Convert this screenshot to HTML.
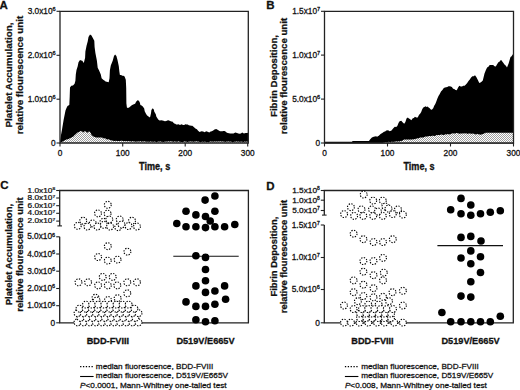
<!DOCTYPE html><html><head><meta charset="utf-8"><style>html,body{margin:0;padding:0;background:#fff;}svg{display:block;} text{stroke:#111;stroke-width:0.28px;}</style></head><body>
<svg width="520" height="390" viewBox="0 0 520 390">
<defs><pattern id="h" width="2" height="2" patternUnits="userSpaceOnUse"><rect width="2" height="2" fill="#fff"/><rect width="1" height="1" fill="#a0a0a0"/><rect x="1" y="1" width="1" height="1" fill="#a0a0a0"/></pattern></defs>
<rect width="520" height="390" fill="#fff"/>
<path d="M60.0,143.0 L60.4,139.0 L60.9,135.5 L61.9,130.2 L62.6,126.0 L63.6,120.0 L64.6,115.0 L65.5,110.5 L66.5,108.0 L67.5,106.0 L69.3,105.0 L69.7,96.7 L70.0,87.5 L71.3,85.8 L73.0,85.4 L74.6,83.8 L75.4,80.8 L75.8,74.6 L76.5,70.0 L77.7,66.2 L78.5,62.3 L80.0,60.0 L81.2,60.4 L82.3,60.8 L83.8,63.1 L85.1,57.7 L85.4,51.5 L86.6,45.4 L87.7,41.5 L88.5,36.9 L90.0,34.6 L91.5,35.4 L93.1,38.5 L94.3,40.8 L94.6,46.9 L95.4,53.0 L96.9,60.8 L97.7,67.7 L99.2,70.8 L100.8,74.6 L101.6,78.2 L103.2,79.8 L104.4,80.5 L105.6,81.4 L106.6,81.8 L107.7,82.1 L108.7,82.2 L109.5,78.2 L109.9,70.3 L110.8,65.5 L112.7,60.7 L114.0,56.0 L115.1,54.4 L116.4,56.0 L117.5,59.9 L118.8,66.3 L119.4,71.8 L119.9,75.0 L121.1,74.9 L122.3,75.8 L123.4,75.7 L124.6,76.6 L125.8,79.8 L126.2,87.7 L126.4,103.6 L126.9,107.6 L127.9,108.0 L129.1,107.6 L130.3,106.5 L131.8,105.3 L133.2,104.6 L135.1,103.7 L136.1,101.7 L137.5,100.3 L138.9,100.8 L139.9,102.7 L140.4,105.1 L141.6,105.5 L142.8,106.5 L144.2,108.5 L144.7,111.3 L145.7,113.3 L146.9,115.3 L148.1,116.2 L150.0,117.6 L151.0,113.3 L151.4,109.9 L152.7,108.3 L153.8,109.4 L154.3,111.8 L155.8,114.2 L156.3,116.6 L158.2,119.5 L159.6,120.5 L161.5,120.2 L162.5,120.5 L163.5,120.8 L164.9,121.3 L166.3,121.0 L167.3,120.6 L168.3,120.2 L170.2,121.0 L171.2,121.4 L172.3,121.5 L174.2,123.5 L175.2,123.7 L176.2,124.6 L177.3,124.5 L178.5,124.2 L180.0,125.0 L181.5,124.2 L183.1,125.0 L184.2,125.0 L185.4,124.2 L186.6,124.4 L187.7,124.6 L188.8,125.3 L190.0,125.4 L191.2,125.8 L192.3,125.8 L193.8,126.9 L195.4,128.5 L196.9,129.2 L198.1,130.8 L199.6,131.9 L201.5,131.2 L203.1,131.5 L204.6,132.3 L206.2,131.3 L207.6,131.7 L209.3,132.5 L210.6,131.4 L211.9,131.2 L213.2,130.6 L214.5,129.5 L216.2,129.1 L218.0,130.0 L219.1,130.7 L220.1,131.2 L221.2,131.2 L222.3,131.2 L223.5,131.1 L224.6,131.0 L225.8,131.7 L226.9,132.8 L227.9,133.0 L229.0,133.2 L230.1,133.4 L231.2,133.4 L232.4,133.4 L233.5,133.4 L235.3,132.5 L237.0,133.0 L238.3,133.6 L239.6,133.8 L240.9,133.6 L242.2,132.5 L243.9,133.4 L245.7,133.0 L247.0,133.1 L248.3,132.8 L248.3,143.0 Z" fill="#000"/>
<path d="M60.0,143.0 L64.9,140.2 L66.0,139.7 L67.0,139.2 L68.0,139.3 L69.1,138.8 L70.2,137.9 L71.2,137.7 L72.3,137.0 L73.4,136.6 L74.6,135.1 L75.7,134.3 L76.9,133.1 L78.0,132.2 L79.0,132.0 L80.0,131.2 L81.1,131.0 L82.2,131.4 L83.2,132.4 L84.3,131.6 L85.4,131.0 L86.5,132.2 L87.5,132.8 L88.5,131.8 L89.6,131.4 L90.7,133.1 L91.7,135.2 L92.8,135.9 L93.8,136.7 L94.9,136.9 L96.0,137.4 L97.1,137.4 L98.2,137.4 L99.4,137.4 L100.5,137.4 L101.6,137.4 L102.6,137.7 L103.7,138.5 L104.8,138.1 L105.8,138.8 L106.9,139.4 L108.1,139.3 L109.2,139.5 L110.4,139.9 L111.5,140.5 L112.7,140.5 L113.8,141.0 L115.0,140.9 L116.0,140.7 L117.0,141.0 L118.0,141.1 L119.0,140.9 L120.0,141.1 L121.0,140.7 L122.0,140.7 L123.0,140.9 L124.0,141.3 L125.0,141.1 L126.0,141.0 L127.0,141.3 L128.0,141.2 L129.0,141.1 L130.0,141.3 L131.0,141.6 L132.0,141.5 L133.0,141.1 L134.0,141.4 L135.0,141.4 L136.0,141.7 L137.0,141.6 L138.0,141.3 L139.0,141.8 L140.0,141.1 L141.0,141.4 L142.0,141.7 L143.0,141.2 L144.0,141.5 L145.0,141.2 L146.0,141.7 L147.0,141.8 L148.0,141.6 L149.0,141.9 L150.0,141.6 L151.0,141.5 L152.0,141.8 L153.0,141.7 L154.0,141.7 L155.0,141.6 L156.0,141.9 L157.0,142.0 L158.0,141.6 L159.0,141.7 L160.0,141.3 L161.0,141.8 L162.0,141.7 L163.0,142.0 L164.0,141.9 L165.0,141.5 L166.0,141.5 L167.0,141.8 L168.0,141.3 L169.0,141.6 L170.0,141.4 L171.0,141.3 L172.0,141.3 L173.0,141.9 L174.0,141.4 L175.0,141.4 L176.0,141.6 L177.0,142.0 L178.0,141.3 L179.0,141.6 L180.0,141.7 L181.0,142.0 L182.0,141.9 L183.0,142.0 L184.0,141.5 L185.0,141.6 L186.0,141.6 L187.0,142.0 L188.0,142.0 L189.0,141.4 L190.0,141.4 L191.0,141.5 L192.0,141.5 L193.0,141.7 L194.0,141.8 L195.0,141.5 L196.0,141.3 L197.0,141.6 L198.0,141.6 L199.0,141.8 L200.0,142.1 L201.0,141.9 L202.0,141.7 L203.0,141.8 L204.0,141.9 L205.0,141.4 L206.0,142.0 L207.0,141.9 L208.0,142.0 L209.0,142.0 L210.0,141.6 L211.0,141.6 L212.0,141.4 L213.0,141.8 L214.0,141.4 L215.0,141.4 L216.0,141.5 L217.0,141.5 L218.0,141.6 L219.0,141.4 L220.0,141.3 L221.0,141.5 L222.0,141.4 L223.0,141.6 L224.0,141.4 L225.0,142.1 L226.0,141.8 L227.0,141.5 L228.0,141.6 L229.0,141.6 L230.0,141.7 L231.0,141.5 L232.0,142.0 L233.0,142.2 L234.0,141.7 L235.0,141.8 L236.0,141.4 L237.0,141.5 L238.0,141.7 L239.0,141.6 L240.0,142.0 L241.0,141.5 L242.0,141.4 L243.0,142.2 L244.0,141.8 L245.0,141.5 L246.0,141.8 L247.0,141.4 L248.0,141.8 L248.0,143.0 Z" fill="url(#h)"/>
<path d="M324.5,143.5 L324.5,141.8 L325.5,141.8 L326.6,141.8 L327.6,141.8 L328.6,141.8 L329.6,141.8 L330.7,141.8 L331.7,141.8 L332.7,141.8 L333.8,141.8 L334.8,141.8 L335.8,141.8 L336.9,141.8 L337.9,141.8 L338.9,141.8 L339.9,141.8 L341.0,141.8 L342.0,141.8 L343.0,141.8 L344.1,141.8 L345.1,141.8 L346.1,141.8 L347.2,141.8 L348.2,141.8 L349.2,141.8 L350.2,141.8 L351.3,141.8 L352.3,141.8 L352.3,141.0 L353.3,141.0 L354.4,141.0 L355.4,141.0 L356.5,141.0 L357.5,141.0 L358.6,141.0 L359.6,141.0 L360.6,141.0 L361.7,141.0 L362.7,141.0 L363.8,141.0 L364.8,141.0 L365.9,141.0 L366.9,141.0 L368.0,141.0 L369.0,141.0 L370.2,139.2 L371.9,137.5 L373.7,136.7 L374.9,136.6 L376.0,136.3 L377.1,136.7 L378.8,135.8 L380.6,134.0 L382.3,132.9 L384.0,131.7 L385.1,131.4 L386.3,130.6 L388.1,130.2 L389.8,131.2 L391.5,130.6 L393.3,128.3 L394.8,126.8 L396.2,127.1 L397.3,126.0 L398.5,123.1 L399.6,121.3 L401.3,120.8 L402.8,122.5 L404.2,123.7 L405.4,121.9 L406.5,118.5 L407.8,117.5 L408.9,118.5 L409.9,118.9 L411.3,120.3 L412.8,118.2 L413.9,118.0 L414.9,116.8 L416.3,117.4 L417.7,117.5 L419.1,114.7 L420.1,113.8 L421.2,111.9 L422.2,109.2 L423.3,107.6 L424.4,106.9 L425.5,106.2 L426.6,106.9 L427.6,106.6 L428.6,107.6 L429.7,108.3 L430.8,109.4 L431.8,109.7 L433.2,108.3 L434.2,105.8 L435.3,104.1 L436.4,101.3 L437.4,98.5 L438.5,96.1 L439.6,94.2 L441.0,91.4 L442.4,90.0 L443.8,87.9 L445.0,87.6 L446.1,87.3 L447.3,86.9 L448.5,86.2 L449.6,86.3 L450.8,86.5 L451.9,87.1 L453.1,88.7 L454.2,89.1 L455.5,90.0 L456.8,90.3 L458.1,87.6 L459.4,85.7 L460.7,86.4 L462.0,86.5 L463.3,85.7 L464.6,85.7 L465.9,84.5 L467.2,83.1 L468.5,80.9 L469.8,79.6 L471.1,77.4 L472.4,76.2 L473.7,76.2 L475.0,75.3 L476.3,77.1 L477.6,79.6 L479.3,83.1 L481.0,82.2 L482.8,80.5 L484.5,73.6 L485.8,70.2 L487.1,67.5 L488.4,66.7 L489.7,64.9 L490.9,64.9 L492.0,64.9 L493.2,64.9 L494.5,66.2 L495.8,66.6 L497.1,64.2 L498.4,62.3 L499.7,61.5 L501.0,59.7 L502.3,61.5 L503.6,63.2 L504.7,64.8 L505.9,65.7 L507.0,67.5 L508.7,63.2 L510.5,57.1 L511.6,56.3 L512.7,54.5 L513.3,54.0 L513.3,143.5 Z" fill="#000"/>
<path d="M383.5,143.0 L383.5,142.5 L384.5,142.4 L385.6,142.3 L386.6,142.0 L387.6,142.5 L388.6,141.8 L389.7,142.1 L390.7,142.3 L391.7,141.6 L392.8,141.9 L393.8,141.8 L394.8,141.8 L395.8,141.2 L396.8,141.4 L397.9,141.6 L398.9,141.3 L399.9,141.4 L400.9,140.8 L401.9,141.0 L402.9,140.3 L404.0,139.6 L405.0,139.4 L406.0,139.4 L407.0,139.4 L408.0,139.4 L409.0,139.4 L410.0,139.4 L411.0,139.4 L412.0,139.4 L413.0,139.2 L414.0,139.3 L415.0,138.9 L416.1,138.8 L417.1,138.3 L418.1,138.4 L419.1,138.0 L420.2,137.5 L421.2,137.5 L422.3,137.6 L423.4,137.4 L424.4,137.0 L425.5,136.5 L426.5,136.5 L427.6,136.5 L428.7,136.1 L429.8,136.0 L431.0,136.3 L432.1,135.7 L433.2,135.8 L434.3,136.0 L435.4,135.8 L436.6,135.0 L437.7,135.1 L438.8,135.1 L439.9,135.0 L441.1,134.6 L442.2,134.8 L443.4,135.1 L444.5,134.7 L445.6,134.3 L446.7,134.5 L447.8,134.0 L448.9,134.2 L449.9,134.4 L451.0,133.7 L452.1,133.4 L453.2,133.3 L454.3,133.6 L455.4,133.4 L456.4,133.0 L457.5,133.1 L458.5,133.4 L459.6,133.8 L460.6,133.4 L461.7,133.4 L462.7,133.6 L463.7,133.2 L464.8,133.6 L465.8,133.3 L466.9,133.6 L467.9,133.9 L469.0,133.2 L470.0,133.6 L471.0,133.7 L472.0,133.8 L473.0,133.5 L474.0,133.7 L475.0,134.3 L476.0,134.4 L477.0,133.8 L478.0,134.3 L479.0,134.2 L480.2,134.8 L481.5,134.6 L482.6,133.9 L483.8,133.8 L484.9,132.9 L486.0,132.8 L487.0,132.8 L488.0,132.8 L489.0,132.8 L490.0,132.8 L491.1,132.8 L492.1,132.8 L493.1,132.8 L494.1,132.8 L495.1,132.8 L496.1,132.8 L497.1,132.8 L498.1,132.8 L499.1,132.8 L500.2,132.8 L501.2,132.8 L502.2,132.8 L503.2,132.8 L504.2,132.8 L505.2,132.8 L506.2,132.8 L507.2,132.8 L508.2,132.8 L509.3,132.8 L510.3,132.8 L511.3,132.8 L512.3,132.8 L513.3,132.8 L513.3,143.0 Z" fill="url(#h)"/>
<path d="M60,143 L60,11.3 L248.3,11.3 L248.3,143 Z" fill="none" stroke="#222" stroke-width="1.3"/>
<path d="M324.5,143 L324.5,11.3 L513.5,11.3 L513.5,143 Z" fill="none" stroke="#222" stroke-width="1.3"/>
<g font-family='"Liberation Sans", sans-serif' fill="#111">
<line x1="56.5" y1="11.3" x2="60" y2="11.3" stroke="#222" stroke-width="1.1"/>
<text transform="translate(55.7,13.700000000000001) scale(1,1.05)" font-size="8.3" text-anchor="end">3.0x10<tspan font-size="5.6" dy="-2.6">6</tspan></text>
<line x1="56.5" y1="55.3" x2="60" y2="55.3" stroke="#222" stroke-width="1.1"/>
<text transform="translate(55.7,57.699999999999996) scale(1,1.05)" font-size="8.3" text-anchor="end">2.0x10<tspan font-size="5.6" dy="-2.6">6</tspan></text>
<line x1="56.5" y1="99.2" x2="60" y2="99.2" stroke="#222" stroke-width="1.1"/>
<text transform="translate(55.7,101.60000000000001) scale(1,1.05)" font-size="8.3" text-anchor="end">1.0x10<tspan font-size="5.6" dy="-2.6">6</tspan></text>
<line x1="56.5" y1="143" x2="60" y2="143" stroke="#222" stroke-width="1.1"/>
<text transform="translate(55.7,145.9) scale(1,1.05)" font-size="8.3" text-anchor="end">0</text>
<line x1="60" y1="143" x2="60" y2="146.5" stroke="#222" stroke-width="1.1"/>
<text transform="translate(60,156.2) scale(1,1.05)" font-size="8.3" text-anchor="middle">0</text>
<line x1="122.7" y1="143" x2="122.7" y2="146.5" stroke="#222" stroke-width="1.1"/>
<text transform="translate(122.7,156.2) scale(1,1.05)" font-size="8.3" text-anchor="middle">100</text>
<line x1="185.2" y1="143" x2="185.2" y2="146.5" stroke="#222" stroke-width="1.1"/>
<text transform="translate(185.2,156.2) scale(1,1.05)" font-size="8.3" text-anchor="middle">200</text>
<line x1="247.7" y1="143" x2="247.7" y2="146.5" stroke="#222" stroke-width="1.1"/>
<text transform="translate(247.7,156.2) scale(1,1.05)" font-size="8.3" text-anchor="middle">300</text>
<line x1="321.0" y1="11.3" x2="324.5" y2="11.3" stroke="#222" stroke-width="1.1"/>
<text transform="translate(320.2,14.200000000000001) scale(1,1.05)" font-size="8.3" text-anchor="end">1.5x10<tspan font-size="5.6" dy="-2.6">7</tspan></text>
<line x1="321.0" y1="55.1" x2="324.5" y2="55.1" stroke="#222" stroke-width="1.1"/>
<text transform="translate(320.2,58.0) scale(1,1.05)" font-size="8.3" text-anchor="end">1.0x10<tspan font-size="5.6" dy="-2.6">7</tspan></text>
<line x1="321.0" y1="99.1" x2="324.5" y2="99.1" stroke="#222" stroke-width="1.1"/>
<text transform="translate(320.2,102.0) scale(1,1.05)" font-size="8.3" text-anchor="end">5.0x10<tspan font-size="5.6" dy="-2.6">6</tspan></text>
<line x1="321.0" y1="143" x2="324.5" y2="143" stroke="#222" stroke-width="1.1"/>
<text transform="translate(320.2,145.9) scale(1,1.05)" font-size="8.3" text-anchor="end">0</text>
<line x1="324.5" y1="143" x2="324.5" y2="146.5" stroke="#222" stroke-width="1.1"/>
<text transform="translate(324.5,156.2) scale(1,1.05)" font-size="8.3" text-anchor="middle">0</text>
<line x1="387.5" y1="143" x2="387.5" y2="146.5" stroke="#222" stroke-width="1.1"/>
<text transform="translate(387.5,156.2) scale(1,1.05)" font-size="8.3" text-anchor="middle">100</text>
<line x1="450.5" y1="143" x2="450.5" y2="146.5" stroke="#222" stroke-width="1.1"/>
<text transform="translate(450.5,156.2) scale(1,1.05)" font-size="8.3" text-anchor="middle">200</text>
<line x1="513.5" y1="143" x2="513.5" y2="146.5" stroke="#222" stroke-width="1.1"/>
<text transform="translate(513.5,156.2) scale(1,1.05)" font-size="8.3" text-anchor="middle">300</text>
<text transform="translate(154.6,169.9) scale(1,1.14)" font-size="9.1" font-weight="bold" text-anchor="middle">Time, s</text>
<text transform="translate(419,169.9) scale(1,1.14)" font-size="9.1" font-weight="bold" text-anchor="middle">Time, s</text>
<text x="-0.6" y="8.6" font-size="11.5" font-weight="bold">A</text>
<text x="266.3" y="8.6" font-size="11.5" font-weight="bold">B</text>
<text x="0.3" y="189.4" font-size="11.5" font-weight="bold">C</text>
<text x="266.3" y="189.6" font-size="11.5" font-weight="bold">D</text>
<text transform="translate(11.8,75) rotate(-90) scale(1,0.9)" font-size="9.85" font-weight="bold" text-anchor="middle">Platelet Accumulation,</text>
<text transform="translate(22.8,75) rotate(-90) scale(1,0.9)" font-size="9.85" font-weight="bold" text-anchor="middle">relative flourescence unit</text>
<text transform="translate(276.5,76) rotate(-90) scale(1,0.9)" font-size="9.65" font-weight="bold" text-anchor="middle">Fibrin Deposition,</text>
<text transform="translate(286.8,76) rotate(-90) scale(1,0.9)" font-size="9.65" font-weight="bold" text-anchor="middle">relative flourescence unit</text>
<text transform="translate(11.8,254.6) rotate(-90) scale(1,0.9)" font-size="9.5" font-weight="bold" text-anchor="middle">Platelet Accumulation,</text>
<text transform="translate(22.8,254.6) rotate(-90) scale(1,0.9)" font-size="9.5" font-weight="bold" text-anchor="middle">relative flourescence unit</text>
<text transform="translate(276.5,256.6) rotate(-90) scale(1,0.9)" font-size="9.4" font-weight="bold" text-anchor="middle">Fibrin Deposition,</text>
<text transform="translate(286.8,256.6) rotate(-90) scale(1,0.9)" font-size="9.4" font-weight="bold" text-anchor="middle">relative flourescence unit</text>
</g>
<g font-family='"Liberation Sans", sans-serif' fill="#111">
<path d="M59.7,225.9 L59.7,190.5 L248.4,190.5 L248.4,322.8 L59.7,322.8 L59.7,236.8" fill="none" stroke="#222" stroke-width="1.3"/>
<line x1="57.400000000000006" y1="225.9" x2="62.0" y2="225.9" stroke="#222" stroke-width="1.1"/>
<line x1="56.2" y1="190.5" x2="59.7" y2="190.5" stroke="#222" stroke-width="1.1"/>
<text transform="translate(55.2,192.58) scale(1,0.8)" font-size="8.3" text-anchor="end">1.0x10<tspan font-size="4.9" dy="-2.8">8</tspan></text>
<line x1="56.2" y1="198" x2="59.7" y2="198" stroke="#222" stroke-width="1.1"/>
<text transform="translate(55.2,200.08) scale(1,0.8)" font-size="8.3" text-anchor="end">8.0x10<tspan font-size="4.9" dy="-2.8">7</tspan></text>
<line x1="56.2" y1="205.7" x2="59.7" y2="205.7" stroke="#222" stroke-width="1.1"/>
<text transform="translate(55.2,207.78) scale(1,0.8)" font-size="8.3" text-anchor="end">6.0x10<tspan font-size="4.9" dy="-2.8">7</tspan></text>
<line x1="56.2" y1="213.3" x2="59.7" y2="213.3" stroke="#222" stroke-width="1.1"/>
<text transform="translate(55.2,215.38000000000002) scale(1,0.8)" font-size="8.3" text-anchor="end">4.0x10<tspan font-size="4.9" dy="-2.8">7</tspan></text>
<line x1="56.2" y1="221.1" x2="59.7" y2="221.1" stroke="#222" stroke-width="1.1"/>
<text transform="translate(55.2,223.18) scale(1,0.8)" font-size="8.3" text-anchor="end">2.0x10<tspan font-size="4.9" dy="-2.8">7</tspan></text>
<line x1="56.2" y1="236.8" x2="59.7" y2="236.8" stroke="#222" stroke-width="1.1"/>
<text transform="translate(55.2,239.4) scale(1,1.0)" font-size="8.3" text-anchor="end">5.0x10<tspan font-size="5.6" dy="-2.8">6</tspan></text>
<line x1="56.2" y1="254" x2="59.7" y2="254" stroke="#222" stroke-width="1.1"/>
<text transform="translate(55.2,256.6) scale(1,1.0)" font-size="8.3" text-anchor="end">4.0x10<tspan font-size="5.6" dy="-2.8">6</tspan></text>
<line x1="56.2" y1="271.2" x2="59.7" y2="271.2" stroke="#222" stroke-width="1.1"/>
<text transform="translate(55.2,273.8) scale(1,1.0)" font-size="8.3" text-anchor="end">3.0x10<tspan font-size="5.6" dy="-2.8">6</tspan></text>
<line x1="56.2" y1="288.5" x2="59.7" y2="288.5" stroke="#222" stroke-width="1.1"/>
<text transform="translate(55.2,291.1) scale(1,1.0)" font-size="8.3" text-anchor="end">2.0x10<tspan font-size="5.6" dy="-2.8">6</tspan></text>
<line x1="56.2" y1="305.7" x2="59.7" y2="305.7" stroke="#222" stroke-width="1.1"/>
<text transform="translate(55.2,308.3) scale(1,1.0)" font-size="8.3" text-anchor="end">1.0x10<tspan font-size="5.6" dy="-2.8">6</tspan></text>
<line x1="56.2" y1="322.8" x2="59.7" y2="322.8" stroke="#222" stroke-width="1.1"/>
<text x="55.2" y="325.7" font-size="8.3" text-anchor="end">0</text>
<path d="M324.3,215.1 L324.3,190.5 L513.3,190.5 L513.3,322.8 L324.3,322.8 L324.3,225.0" fill="none" stroke="#222" stroke-width="1.3"/>
<line x1="322.0" y1="215.1" x2="326.6" y2="215.1" stroke="#222" stroke-width="1.1"/>
<line x1="320.8" y1="190.5" x2="324.3" y2="190.5" stroke="#222" stroke-width="1.1"/>
<text transform="translate(319.8,192.84) scale(1,0.9)" font-size="8.3" text-anchor="end">1.5x10<tspan font-size="5.0" dy="-2.8">8</tspan></text>
<line x1="320.8" y1="200.2" x2="324.3" y2="200.2" stroke="#222" stroke-width="1.1"/>
<text transform="translate(319.8,202.54) scale(1,0.9)" font-size="8.3" text-anchor="end">1.0x10<tspan font-size="5.0" dy="-2.8">8</tspan></text>
<line x1="320.8" y1="210.5" x2="324.3" y2="210.5" stroke="#222" stroke-width="1.1"/>
<text transform="translate(319.8,212.84) scale(1,0.9)" font-size="8.3" text-anchor="end">5.0x10<tspan font-size="5.0" dy="-2.8">7</tspan></text>
<line x1="320.8" y1="225.0" x2="324.3" y2="225.0" stroke="#222" stroke-width="1.1"/>
<text transform="translate(319.8,227.6) scale(1,1.0)" font-size="8.3" text-anchor="end">1.5x10<tspan font-size="5.6" dy="-2.8">7</tspan></text>
<line x1="320.8" y1="257.5" x2="324.3" y2="257.5" stroke="#222" stroke-width="1.1"/>
<text transform="translate(319.8,260.1) scale(1,1.0)" font-size="8.3" text-anchor="end">1.0x10<tspan font-size="5.6" dy="-2.8">7</tspan></text>
<line x1="320.8" y1="289.5" x2="324.3" y2="289.5" stroke="#222" stroke-width="1.1"/>
<text transform="translate(319.8,292.1) scale(1,1.0)" font-size="8.3" text-anchor="end">5.0x10<tspan font-size="5.6" dy="-2.8">6</tspan></text>
<line x1="320.8" y1="322.8" x2="324.3" y2="322.8" stroke="#222" stroke-width="1.1"/>
<text x="319.8" y="325.7" font-size="8.3" text-anchor="end">0</text>
<text x="107.9" y="344.4" font-size="9.2" font-weight="bold" text-anchor="middle">BDD-FVIII</text>
<text x="205.5" y="344.4" font-size="9.2" font-weight="bold" text-anchor="middle">D519V/E665V</text>
<text x="372.5" y="344.4" font-size="9.2" font-weight="bold" text-anchor="middle">BDD-FVIII</text>
<text x="470.6" y="344.4" font-size="9.2" font-weight="bold" text-anchor="middle">D519V/E665V</text>
<line x1="80.1" y1="366.7" x2="92.89999999999999" y2="366.7" stroke="#000" stroke-width="1.25" stroke-dasharray="1.3 1.55"/>
<text transform="translate(95.8,368.6) scale(1,0.9)" font-size="8.2">median fluorescence, BDD-FVIII</text>
<line x1="80.1" y1="376.5" x2="93.6" y2="376.5" stroke="#000" stroke-width="1.1"/>
<text transform="translate(95.8,378.3) scale(1,0.9)" font-size="8.2">median fluorescence, D519V/E665V</text>
<text transform="translate(80.1,387.6) scale(1,0.9)" font-size="8.2"><tspan font-style="italic">P</tspan>&lt;0.0001, Mann-Whitney one-tailed test</text>
<line x1="344.9" y1="366.7" x2="357.7" y2="366.7" stroke="#000" stroke-width="1.25" stroke-dasharray="1.3 1.55"/>
<text transform="translate(361.2,368.6) scale(1,0.9)" font-size="8.2">median fluorescence, BDD-FVIII</text>
<line x1="344.9" y1="376.5" x2="358.4" y2="376.5" stroke="#000" stroke-width="1.1"/>
<text transform="translate(361.2,378.3) scale(1,0.9)" font-size="8.2">median fluorescence, D519V/E665V</text>
<text transform="translate(344.9,387.6) scale(1,0.9)" font-size="8.2"><tspan font-style="italic">P</tspan>&lt;0.008, Mann-Whitney one-tailed test</text>
</g>
<circle cx="107.8" cy="204.8" r="3.45" fill="#fff" stroke="#000" stroke-width="1.1" stroke-dasharray="1.35 1.36"/>
<circle cx="98.0" cy="213.4" r="3.45" fill="#fff" stroke="#000" stroke-width="1.1" stroke-dasharray="1.35 1.36"/>
<circle cx="107.6" cy="213.6" r="3.45" fill="#fff" stroke="#000" stroke-width="1.1" stroke-dasharray="1.35 1.36"/>
<circle cx="83.2" cy="220.7" r="3.45" fill="#fff" stroke="#000" stroke-width="1.1" stroke-dasharray="1.35 1.36"/>
<circle cx="92.8" cy="223.4" r="3.45" fill="#fff" stroke="#000" stroke-width="1.1" stroke-dasharray="1.35 1.36"/>
<circle cx="103.5" cy="221.8" r="3.45" fill="#fff" stroke="#000" stroke-width="1.1" stroke-dasharray="1.35 1.36"/>
<circle cx="109.3" cy="219.5" r="3.45" fill="#fff" stroke="#000" stroke-width="1.1" stroke-dasharray="1.35 1.36"/>
<circle cx="119.7" cy="219.5" r="3.45" fill="#fff" stroke="#000" stroke-width="1.1" stroke-dasharray="1.35 1.36"/>
<circle cx="132.0" cy="220.7" r="3.45" fill="#fff" stroke="#000" stroke-width="1.1" stroke-dasharray="1.35 1.36"/>
<circle cx="77.8" cy="225.8" r="3.45" fill="#fff" stroke="#000" stroke-width="1.1" stroke-dasharray="1.35 1.36"/>
<circle cx="87.4" cy="226.5" r="3.45" fill="#fff" stroke="#000" stroke-width="1.1" stroke-dasharray="1.35 1.36"/>
<circle cx="97.4" cy="226.5" r="3.45" fill="#fff" stroke="#000" stroke-width="1.1" stroke-dasharray="1.35 1.36"/>
<circle cx="103.9" cy="224.8" r="3.45" fill="#fff" stroke="#000" stroke-width="1.1" stroke-dasharray="1.35 1.36"/>
<circle cx="110.1" cy="226.5" r="3.45" fill="#fff" stroke="#000" stroke-width="1.1" stroke-dasharray="1.35 1.36"/>
<circle cx="118.2" cy="227.2" r="3.45" fill="#fff" stroke="#000" stroke-width="1.1" stroke-dasharray="1.35 1.36"/>
<circle cx="121.5" cy="224.5" r="3.45" fill="#fff" stroke="#000" stroke-width="1.1" stroke-dasharray="1.35 1.36"/>
<circle cx="128.5" cy="226.0" r="3.45" fill="#fff" stroke="#000" stroke-width="1.1" stroke-dasharray="1.35 1.36"/>
<circle cx="137.0" cy="226.5" r="3.45" fill="#fff" stroke="#000" stroke-width="1.1" stroke-dasharray="1.35 1.36"/>
<circle cx="107.8" cy="246.2" r="3.45" fill="#fff" stroke="#000" stroke-width="1.1" stroke-dasharray="1.35 1.36"/>
<circle cx="127.4" cy="251.7" r="3.45" fill="#fff" stroke="#000" stroke-width="1.1" stroke-dasharray="1.35 1.36"/>
<circle cx="98.1" cy="257.0" r="3.45" fill="#fff" stroke="#000" stroke-width="1.1" stroke-dasharray="1.35 1.36"/>
<circle cx="107.8" cy="260.6" r="3.45" fill="#fff" stroke="#000" stroke-width="1.1" stroke-dasharray="1.35 1.36"/>
<circle cx="117.6" cy="259.6" r="3.45" fill="#fff" stroke="#000" stroke-width="1.1" stroke-dasharray="1.35 1.36"/>
<circle cx="102.7" cy="276.9" r="3.45" fill="#fff" stroke="#000" stroke-width="1.1" stroke-dasharray="1.35 1.36"/>
<circle cx="112.7" cy="276.9" r="3.45" fill="#fff" stroke="#000" stroke-width="1.1" stroke-dasharray="1.35 1.36"/>
<circle cx="78.5" cy="282.3" r="3.45" fill="#fff" stroke="#000" stroke-width="1.1" stroke-dasharray="1.35 1.36"/>
<circle cx="88.1" cy="282.3" r="3.45" fill="#fff" stroke="#000" stroke-width="1.1" stroke-dasharray="1.35 1.36"/>
<circle cx="127.3" cy="282.3" r="3.45" fill="#fff" stroke="#000" stroke-width="1.1" stroke-dasharray="1.35 1.36"/>
<circle cx="137.0" cy="282.3" r="3.45" fill="#fff" stroke="#000" stroke-width="1.1" stroke-dasharray="1.35 1.36"/>
<circle cx="98.1" cy="285.4" r="3.45" fill="#fff" stroke="#000" stroke-width="1.1" stroke-dasharray="1.35 1.36"/>
<circle cx="107.8" cy="285.4" r="3.45" fill="#fff" stroke="#000" stroke-width="1.1" stroke-dasharray="1.35 1.36"/>
<circle cx="117.3" cy="285.4" r="3.45" fill="#fff" stroke="#000" stroke-width="1.1" stroke-dasharray="1.35 1.36"/>
<circle cx="127.3" cy="293.3" r="3.45" fill="#fff" stroke="#000" stroke-width="1.1" stroke-dasharray="1.35 1.36"/>
<circle cx="95.5" cy="297.7" r="3.45" fill="#fff" stroke="#000" stroke-width="1.1" stroke-dasharray="1.35 1.36"/>
<circle cx="117.6" cy="298.2" r="3.45" fill="#fff" stroke="#000" stroke-width="1.1" stroke-dasharray="1.35 1.36"/>
<circle cx="108.0" cy="300.0" r="3.45" fill="#fff" stroke="#000" stroke-width="1.1" stroke-dasharray="1.35 1.36"/>
<circle cx="96.6" cy="300.5" r="3.45" fill="#fff" stroke="#000" stroke-width="1.1" stroke-dasharray="1.35 1.36"/>
<circle cx="77.5" cy="322.4" r="3.45" fill="#fff" stroke="#000" stroke-width="1.1" stroke-dasharray="1.35 1.36"/>
<circle cx="83.6" cy="322.4" r="3.45" fill="#fff" stroke="#000" stroke-width="1.1" stroke-dasharray="1.35 1.36"/>
<circle cx="89.7" cy="322.4" r="3.45" fill="#fff" stroke="#000" stroke-width="1.1" stroke-dasharray="1.35 1.36"/>
<circle cx="95.8" cy="322.4" r="3.45" fill="#fff" stroke="#000" stroke-width="1.1" stroke-dasharray="1.35 1.36"/>
<circle cx="101.9" cy="322.4" r="3.45" fill="#fff" stroke="#000" stroke-width="1.1" stroke-dasharray="1.35 1.36"/>
<circle cx="108.0" cy="322.4" r="3.45" fill="#fff" stroke="#000" stroke-width="1.1" stroke-dasharray="1.35 1.36"/>
<circle cx="114.1" cy="322.4" r="3.45" fill="#fff" stroke="#000" stroke-width="1.1" stroke-dasharray="1.35 1.36"/>
<circle cx="120.2" cy="322.4" r="3.45" fill="#fff" stroke="#000" stroke-width="1.1" stroke-dasharray="1.35 1.36"/>
<circle cx="126.3" cy="322.4" r="3.45" fill="#fff" stroke="#000" stroke-width="1.1" stroke-dasharray="1.35 1.36"/>
<circle cx="132.4" cy="322.4" r="3.45" fill="#fff" stroke="#000" stroke-width="1.1" stroke-dasharray="1.35 1.36"/>
<circle cx="138.5" cy="322.4" r="3.45" fill="#fff" stroke="#000" stroke-width="1.1" stroke-dasharray="1.35 1.36"/>
<circle cx="80.5" cy="317.8" r="3.45" fill="#fff" stroke="#000" stroke-width="1.1" stroke-dasharray="1.35 1.36"/>
<circle cx="86.6" cy="317.8" r="3.45" fill="#fff" stroke="#000" stroke-width="1.1" stroke-dasharray="1.35 1.36"/>
<circle cx="92.7" cy="317.8" r="3.45" fill="#fff" stroke="#000" stroke-width="1.1" stroke-dasharray="1.35 1.36"/>
<circle cx="98.8" cy="317.8" r="3.45" fill="#fff" stroke="#000" stroke-width="1.1" stroke-dasharray="1.35 1.36"/>
<circle cx="104.9" cy="317.8" r="3.45" fill="#fff" stroke="#000" stroke-width="1.1" stroke-dasharray="1.35 1.36"/>
<circle cx="111.0" cy="317.8" r="3.45" fill="#fff" stroke="#000" stroke-width="1.1" stroke-dasharray="1.35 1.36"/>
<circle cx="117.1" cy="317.8" r="3.45" fill="#fff" stroke="#000" stroke-width="1.1" stroke-dasharray="1.35 1.36"/>
<circle cx="123.2" cy="317.8" r="3.45" fill="#fff" stroke="#000" stroke-width="1.1" stroke-dasharray="1.35 1.36"/>
<circle cx="129.3" cy="317.8" r="3.45" fill="#fff" stroke="#000" stroke-width="1.1" stroke-dasharray="1.35 1.36"/>
<circle cx="135.4" cy="317.8" r="3.45" fill="#fff" stroke="#000" stroke-width="1.1" stroke-dasharray="1.35 1.36"/>
<circle cx="77.5" cy="313.2" r="3.45" fill="#fff" stroke="#000" stroke-width="1.1" stroke-dasharray="1.35 1.36"/>
<circle cx="83.6" cy="313.2" r="3.45" fill="#fff" stroke="#000" stroke-width="1.1" stroke-dasharray="1.35 1.36"/>
<circle cx="89.7" cy="313.2" r="3.45" fill="#fff" stroke="#000" stroke-width="1.1" stroke-dasharray="1.35 1.36"/>
<circle cx="95.8" cy="313.2" r="3.45" fill="#fff" stroke="#000" stroke-width="1.1" stroke-dasharray="1.35 1.36"/>
<circle cx="101.9" cy="313.2" r="3.45" fill="#fff" stroke="#000" stroke-width="1.1" stroke-dasharray="1.35 1.36"/>
<circle cx="108.0" cy="313.2" r="3.45" fill="#fff" stroke="#000" stroke-width="1.1" stroke-dasharray="1.35 1.36"/>
<circle cx="114.1" cy="313.2" r="3.45" fill="#fff" stroke="#000" stroke-width="1.1" stroke-dasharray="1.35 1.36"/>
<circle cx="120.2" cy="313.2" r="3.45" fill="#fff" stroke="#000" stroke-width="1.1" stroke-dasharray="1.35 1.36"/>
<circle cx="126.3" cy="313.2" r="3.45" fill="#fff" stroke="#000" stroke-width="1.1" stroke-dasharray="1.35 1.36"/>
<circle cx="132.4" cy="313.2" r="3.45" fill="#fff" stroke="#000" stroke-width="1.1" stroke-dasharray="1.35 1.36"/>
<circle cx="138.5" cy="313.2" r="3.45" fill="#fff" stroke="#000" stroke-width="1.1" stroke-dasharray="1.35 1.36"/>
<circle cx="79.5" cy="308.6" r="3.45" fill="#fff" stroke="#000" stroke-width="1.1" stroke-dasharray="1.35 1.36"/>
<circle cx="85.6" cy="308.6" r="3.45" fill="#fff" stroke="#000" stroke-width="1.1" stroke-dasharray="1.35 1.36"/>
<circle cx="91.7" cy="308.6" r="3.45" fill="#fff" stroke="#000" stroke-width="1.1" stroke-dasharray="1.35 1.36"/>
<circle cx="97.8" cy="308.6" r="3.45" fill="#fff" stroke="#000" stroke-width="1.1" stroke-dasharray="1.35 1.36"/>
<circle cx="103.9" cy="308.6" r="3.45" fill="#fff" stroke="#000" stroke-width="1.1" stroke-dasharray="1.35 1.36"/>
<circle cx="110.0" cy="308.6" r="3.45" fill="#fff" stroke="#000" stroke-width="1.1" stroke-dasharray="1.35 1.36"/>
<circle cx="116.1" cy="308.6" r="3.45" fill="#fff" stroke="#000" stroke-width="1.1" stroke-dasharray="1.35 1.36"/>
<circle cx="122.2" cy="308.6" r="3.45" fill="#fff" stroke="#000" stroke-width="1.1" stroke-dasharray="1.35 1.36"/>
<circle cx="128.3" cy="308.6" r="3.45" fill="#fff" stroke="#000" stroke-width="1.1" stroke-dasharray="1.35 1.36"/>
<circle cx="134.4" cy="308.6" r="3.45" fill="#fff" stroke="#000" stroke-width="1.1" stroke-dasharray="1.35 1.36"/>
<circle cx="86.0" cy="304.6" r="3.45" fill="#fff" stroke="#000" stroke-width="1.1" stroke-dasharray="1.35 1.36"/>
<circle cx="92.1" cy="304.6" r="3.45" fill="#fff" stroke="#000" stroke-width="1.1" stroke-dasharray="1.35 1.36"/>
<circle cx="98.2" cy="304.6" r="3.45" fill="#fff" stroke="#000" stroke-width="1.1" stroke-dasharray="1.35 1.36"/>
<circle cx="104.3" cy="304.6" r="3.45" fill="#fff" stroke="#000" stroke-width="1.1" stroke-dasharray="1.35 1.36"/>
<circle cx="110.4" cy="304.6" r="3.45" fill="#fff" stroke="#000" stroke-width="1.1" stroke-dasharray="1.35 1.36"/>
<circle cx="116.5" cy="304.6" r="3.45" fill="#fff" stroke="#000" stroke-width="1.1" stroke-dasharray="1.35 1.36"/>
<circle cx="122.6" cy="304.6" r="3.45" fill="#fff" stroke="#000" stroke-width="1.1" stroke-dasharray="1.35 1.36"/>
<circle cx="128.7" cy="304.6" r="3.45" fill="#fff" stroke="#000" stroke-width="1.1" stroke-dasharray="1.35 1.36"/>
<line x1="173.3" y1="256.3" x2="238.7" y2="256.3" stroke="#111" stroke-width="1.1"/>
<circle cx="214.9" cy="196.0" r="3.8" fill="#000"/>
<circle cx="205.1" cy="200.1" r="3.8" fill="#000"/>
<circle cx="186.0" cy="211.2" r="3.8" fill="#000"/>
<circle cx="214.9" cy="211.2" r="3.8" fill="#000"/>
<circle cx="195.9" cy="214.9" r="3.8" fill="#000"/>
<circle cx="205.5" cy="216.5" r="3.8" fill="#000"/>
<circle cx="210.2" cy="221.0" r="3.8" fill="#000"/>
<circle cx="176.8" cy="223.5" r="3.8" fill="#000"/>
<circle cx="186.0" cy="226.7" r="3.8" fill="#000"/>
<circle cx="195.9" cy="226.7" r="3.8" fill="#000"/>
<circle cx="205.5" cy="227.6" r="3.8" fill="#000"/>
<circle cx="214.9" cy="226.7" r="3.8" fill="#000"/>
<circle cx="224.6" cy="226.7" r="3.8" fill="#000"/>
<circle cx="234.8" cy="224.5" r="3.8" fill="#000"/>
<circle cx="195.9" cy="255.7" r="3.8" fill="#000"/>
<circle cx="205.5" cy="257.4" r="3.8" fill="#000"/>
<circle cx="205.5" cy="269.5" r="3.8" fill="#000"/>
<circle cx="205.5" cy="280.8" r="3.8" fill="#000"/>
<circle cx="195.9" cy="285.9" r="3.8" fill="#000"/>
<circle cx="224.6" cy="285.9" r="3.8" fill="#000"/>
<circle cx="205.5" cy="292.4" r="3.8" fill="#000"/>
<circle cx="214.9" cy="291.0" r="3.8" fill="#000"/>
<circle cx="225.6" cy="299.2" r="3.8" fill="#000"/>
<circle cx="186.0" cy="301.9" r="3.8" fill="#000"/>
<circle cx="195.9" cy="306.4" r="3.8" fill="#000"/>
<circle cx="205.5" cy="306.4" r="3.8" fill="#000"/>
<circle cx="214.9" cy="304.3" r="3.8" fill="#000"/>
<circle cx="195.9" cy="319.7" r="3.8" fill="#000"/>
<circle cx="205.5" cy="321.8" r="3.8" fill="#000"/>
<circle cx="214.9" cy="320.7" r="3.8" fill="#000"/>
<circle cx="363.7" cy="194.5" r="3.45" fill="#fff" stroke="#000" stroke-width="1.1" stroke-dasharray="1.35 1.36"/>
<circle cx="373.2" cy="200.6" r="3.45" fill="#fff" stroke="#000" stroke-width="1.1" stroke-dasharray="1.35 1.36"/>
<circle cx="382.8" cy="200.6" r="3.45" fill="#fff" stroke="#000" stroke-width="1.1" stroke-dasharray="1.35 1.36"/>
<circle cx="350.9" cy="207.2" r="3.45" fill="#fff" stroke="#000" stroke-width="1.1" stroke-dasharray="1.35 1.36"/>
<circle cx="385.4" cy="206.5" r="3.45" fill="#fff" stroke="#000" stroke-width="1.1" stroke-dasharray="1.35 1.36"/>
<circle cx="361.5" cy="209.4" r="3.45" fill="#fff" stroke="#000" stroke-width="1.1" stroke-dasharray="1.35 1.36"/>
<circle cx="372.0" cy="209.4" r="3.45" fill="#fff" stroke="#000" stroke-width="1.1" stroke-dasharray="1.35 1.36"/>
<circle cx="388.5" cy="208.5" r="3.45" fill="#fff" stroke="#000" stroke-width="1.1" stroke-dasharray="1.35 1.36"/>
<circle cx="398.0" cy="209.4" r="3.45" fill="#fff" stroke="#000" stroke-width="1.1" stroke-dasharray="1.35 1.36"/>
<circle cx="344.1" cy="214.1" r="3.45" fill="#fff" stroke="#000" stroke-width="1.1" stroke-dasharray="1.35 1.36"/>
<circle cx="354.1" cy="215.9" r="3.45" fill="#fff" stroke="#000" stroke-width="1.1" stroke-dasharray="1.35 1.36"/>
<circle cx="363.3" cy="215.9" r="3.45" fill="#fff" stroke="#000" stroke-width="1.1" stroke-dasharray="1.35 1.36"/>
<circle cx="373.2" cy="215.9" r="3.45" fill="#fff" stroke="#000" stroke-width="1.1" stroke-dasharray="1.35 1.36"/>
<circle cx="382.8" cy="215.9" r="3.45" fill="#fff" stroke="#000" stroke-width="1.1" stroke-dasharray="1.35 1.36"/>
<circle cx="392.8" cy="214.1" r="3.45" fill="#fff" stroke="#000" stroke-width="1.1" stroke-dasharray="1.35 1.36"/>
<circle cx="402.9" cy="214.6" r="3.45" fill="#fff" stroke="#000" stroke-width="1.1" stroke-dasharray="1.35 1.36"/>
<circle cx="378.0" cy="211.5" r="3.45" fill="#fff" stroke="#000" stroke-width="1.1" stroke-dasharray="1.35 1.36"/>
<circle cx="353.6" cy="233.7" r="3.45" fill="#fff" stroke="#000" stroke-width="1.1" stroke-dasharray="1.35 1.36"/>
<circle cx="363.4" cy="239.2" r="3.45" fill="#fff" stroke="#000" stroke-width="1.1" stroke-dasharray="1.35 1.36"/>
<circle cx="373.5" cy="242.0" r="3.45" fill="#fff" stroke="#000" stroke-width="1.1" stroke-dasharray="1.35 1.36"/>
<circle cx="383.0" cy="242.0" r="3.45" fill="#fff" stroke="#000" stroke-width="1.1" stroke-dasharray="1.35 1.36"/>
<circle cx="392.8" cy="239.2" r="3.45" fill="#fff" stroke="#000" stroke-width="1.1" stroke-dasharray="1.35 1.36"/>
<circle cx="363.4" cy="261.0" r="3.45" fill="#fff" stroke="#000" stroke-width="1.1" stroke-dasharray="1.35 1.36"/>
<circle cx="373.5" cy="261.0" r="3.45" fill="#fff" stroke="#000" stroke-width="1.1" stroke-dasharray="1.35 1.36"/>
<circle cx="383.0" cy="257.9" r="3.45" fill="#fff" stroke="#000" stroke-width="1.1" stroke-dasharray="1.35 1.36"/>
<circle cx="363.4" cy="271.7" r="3.45" fill="#fff" stroke="#000" stroke-width="1.1" stroke-dasharray="1.35 1.36"/>
<circle cx="373.5" cy="275.2" r="3.45" fill="#fff" stroke="#000" stroke-width="1.1" stroke-dasharray="1.35 1.36"/>
<circle cx="383.8" cy="272.6" r="3.45" fill="#fff" stroke="#000" stroke-width="1.1" stroke-dasharray="1.35 1.36"/>
<circle cx="353.6" cy="280.4" r="3.45" fill="#fff" stroke="#000" stroke-width="1.1" stroke-dasharray="1.35 1.36"/>
<circle cx="383.0" cy="280.4" r="3.45" fill="#fff" stroke="#000" stroke-width="1.1" stroke-dasharray="1.35 1.36"/>
<circle cx="363.4" cy="284.7" r="3.45" fill="#fff" stroke="#000" stroke-width="1.1" stroke-dasharray="1.35 1.36"/>
<circle cx="373.5" cy="288.2" r="3.45" fill="#fff" stroke="#000" stroke-width="1.1" stroke-dasharray="1.35 1.36"/>
<circle cx="353.6" cy="292.2" r="3.45" fill="#fff" stroke="#000" stroke-width="1.1" stroke-dasharray="1.35 1.36"/>
<circle cx="392.5" cy="292.2" r="3.45" fill="#fff" stroke="#000" stroke-width="1.1" stroke-dasharray="1.35 1.36"/>
<circle cx="402.9" cy="290.8" r="3.45" fill="#fff" stroke="#000" stroke-width="1.1" stroke-dasharray="1.35 1.36"/>
<circle cx="363.4" cy="296.0" r="3.45" fill="#fff" stroke="#000" stroke-width="1.1" stroke-dasharray="1.35 1.36"/>
<circle cx="373.5" cy="297.3" r="3.45" fill="#fff" stroke="#000" stroke-width="1.1" stroke-dasharray="1.35 1.36"/>
<circle cx="383.0" cy="296.8" r="3.45" fill="#fff" stroke="#000" stroke-width="1.1" stroke-dasharray="1.35 1.36"/>
<circle cx="357.9" cy="301.2" r="3.45" fill="#fff" stroke="#000" stroke-width="1.1" stroke-dasharray="1.35 1.36"/>
<circle cx="389.0" cy="301.2" r="3.45" fill="#fff" stroke="#000" stroke-width="1.1" stroke-dasharray="1.35 1.36"/>
<circle cx="344.0" cy="305.5" r="3.45" fill="#fff" stroke="#000" stroke-width="1.1" stroke-dasharray="1.35 1.36"/>
<circle cx="402.9" cy="305.5" r="3.45" fill="#fff" stroke="#000" stroke-width="1.1" stroke-dasharray="1.35 1.36"/>
<circle cx="368.3" cy="304.6" r="3.45" fill="#fff" stroke="#000" stroke-width="1.1" stroke-dasharray="1.35 1.36"/>
<circle cx="378.7" cy="304.6" r="3.45" fill="#fff" stroke="#000" stroke-width="1.1" stroke-dasharray="1.35 1.36"/>
<circle cx="353.6" cy="309.0" r="3.45" fill="#fff" stroke="#000" stroke-width="1.1" stroke-dasharray="1.35 1.36"/>
<circle cx="344.0" cy="322.6" r="3.45" fill="#fff" stroke="#000" stroke-width="1.1" stroke-dasharray="1.35 1.36"/>
<circle cx="351.0" cy="322.6" r="3.45" fill="#fff" stroke="#000" stroke-width="1.1" stroke-dasharray="1.35 1.36"/>
<circle cx="359.6" cy="322.6" r="3.45" fill="#fff" stroke="#000" stroke-width="1.1" stroke-dasharray="1.35 1.36"/>
<circle cx="368.3" cy="322.6" r="3.45" fill="#fff" stroke="#000" stroke-width="1.1" stroke-dasharray="1.35 1.36"/>
<circle cx="377.0" cy="322.6" r="3.45" fill="#fff" stroke="#000" stroke-width="1.1" stroke-dasharray="1.35 1.36"/>
<circle cx="384.7" cy="322.6" r="3.45" fill="#fff" stroke="#000" stroke-width="1.1" stroke-dasharray="1.35 1.36"/>
<circle cx="394.2" cy="322.6" r="3.45" fill="#fff" stroke="#000" stroke-width="1.1" stroke-dasharray="1.35 1.36"/>
<circle cx="402.9" cy="322.6" r="3.45" fill="#fff" stroke="#000" stroke-width="1.1" stroke-dasharray="1.35 1.36"/>
<circle cx="360.0" cy="318.0" r="3.45" fill="#fff" stroke="#000" stroke-width="1.1" stroke-dasharray="1.35 1.36"/>
<circle cx="366.2" cy="318.0" r="3.45" fill="#fff" stroke="#000" stroke-width="1.1" stroke-dasharray="1.35 1.36"/>
<circle cx="372.4" cy="318.0" r="3.45" fill="#fff" stroke="#000" stroke-width="1.1" stroke-dasharray="1.35 1.36"/>
<circle cx="378.6" cy="318.0" r="3.45" fill="#fff" stroke="#000" stroke-width="1.1" stroke-dasharray="1.35 1.36"/>
<circle cx="384.8" cy="318.0" r="3.45" fill="#fff" stroke="#000" stroke-width="1.1" stroke-dasharray="1.35 1.36"/>
<circle cx="391.0" cy="318.0" r="3.45" fill="#fff" stroke="#000" stroke-width="1.1" stroke-dasharray="1.35 1.36"/>
<circle cx="360.0" cy="313.5" r="3.45" fill="#fff" stroke="#000" stroke-width="1.1" stroke-dasharray="1.35 1.36"/>
<circle cx="366.2" cy="313.5" r="3.45" fill="#fff" stroke="#000" stroke-width="1.1" stroke-dasharray="1.35 1.36"/>
<circle cx="372.4" cy="313.5" r="3.45" fill="#fff" stroke="#000" stroke-width="1.1" stroke-dasharray="1.35 1.36"/>
<circle cx="378.6" cy="313.5" r="3.45" fill="#fff" stroke="#000" stroke-width="1.1" stroke-dasharray="1.35 1.36"/>
<circle cx="384.8" cy="313.5" r="3.45" fill="#fff" stroke="#000" stroke-width="1.1" stroke-dasharray="1.35 1.36"/>
<circle cx="391.0" cy="313.5" r="3.45" fill="#fff" stroke="#000" stroke-width="1.1" stroke-dasharray="1.35 1.36"/>
<circle cx="362.0" cy="309.0" r="3.45" fill="#fff" stroke="#000" stroke-width="1.1" stroke-dasharray="1.35 1.36"/>
<circle cx="368.2" cy="309.0" r="3.45" fill="#fff" stroke="#000" stroke-width="1.1" stroke-dasharray="1.35 1.36"/>
<circle cx="374.4" cy="309.0" r="3.45" fill="#fff" stroke="#000" stroke-width="1.1" stroke-dasharray="1.35 1.36"/>
<circle cx="380.6" cy="309.0" r="3.45" fill="#fff" stroke="#000" stroke-width="1.1" stroke-dasharray="1.35 1.36"/>
<circle cx="386.8" cy="309.0" r="3.45" fill="#fff" stroke="#000" stroke-width="1.1" stroke-dasharray="1.35 1.36"/>
<circle cx="393.0" cy="309.0" r="3.45" fill="#fff" stroke="#000" stroke-width="1.1" stroke-dasharray="1.35 1.36"/>
<line x1="437.4" y1="245.6" x2="503" y2="245.6" stroke="#111" stroke-width="1.1"/>
<circle cx="461.0" cy="198.4" r="3.8" fill="#000"/>
<circle cx="470.8" cy="205.0" r="3.8" fill="#000"/>
<circle cx="450.7" cy="209.7" r="3.8" fill="#000"/>
<circle cx="461.0" cy="213.8" r="3.8" fill="#000"/>
<circle cx="470.8" cy="215.2" r="3.8" fill="#000"/>
<circle cx="480.5" cy="213.8" r="3.8" fill="#000"/>
<circle cx="490.3" cy="212.2" r="3.8" fill="#000"/>
<circle cx="500.3" cy="210.7" r="3.8" fill="#000"/>
<circle cx="461.0" cy="237.4" r="3.8" fill="#000"/>
<circle cx="470.8" cy="236.4" r="3.8" fill="#000"/>
<circle cx="481.0" cy="241.0" r="3.8" fill="#000"/>
<circle cx="470.8" cy="250.9" r="3.8" fill="#000"/>
<circle cx="461.0" cy="258.0" r="3.8" fill="#000"/>
<circle cx="480.5" cy="256.8" r="3.8" fill="#000"/>
<circle cx="470.8" cy="263.7" r="3.8" fill="#000"/>
<circle cx="480.5" cy="272.5" r="3.8" fill="#000"/>
<circle cx="470.8" cy="281.8" r="3.8" fill="#000"/>
<circle cx="461.0" cy="296.1" r="3.8" fill="#000"/>
<circle cx="470.8" cy="297.1" r="3.8" fill="#000"/>
<circle cx="441.9" cy="312.5" r="3.8" fill="#000"/>
<circle cx="500.3" cy="316.2" r="3.8" fill="#000"/>
<circle cx="450.7" cy="321.7" r="3.8" fill="#000"/>
<circle cx="461.0" cy="321.7" r="3.8" fill="#000"/>
<circle cx="470.8" cy="321.7" r="3.8" fill="#000"/>
<circle cx="480.5" cy="321.7" r="3.8" fill="#000"/>
<circle cx="490.3" cy="321.7" r="3.8" fill="#000"/>
</svg>
</body></html>
